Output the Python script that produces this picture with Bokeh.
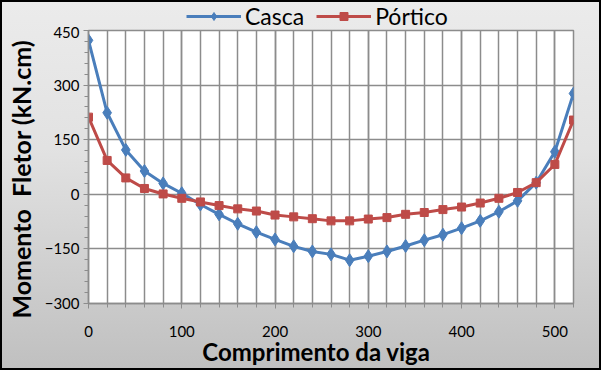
from bokeh.plotting import figure
from bokeh.layouts import column
from bokeh.models import Legend, LegendItem, FixedTicker, ColumnDataSource, Range1d
from bokeh.embed import file_html
from bokeh.resources import INLINE

x_pos = [0, 20, 40, 60, 80, 100, 120, 140, 160, 180, 200, 220, 240, 260, 280,
         300, 320, 340, 360, 380, 400, 420, 440, 460, 480, 500, 520]
casca = [423, 224, 122, 64, 30, 3, -28, -55, -81, -104, -124, -143, -157, -165, -181,
         -170, -157, -142, -126, -111, -93, -73, -48, -18, 32, 117, 277]
portico = [212, 93, 45, 16, 1, -11, -21, -31, -40, -46, -57, -62, -67, -73, -73,
           -68, -64, -55, -50, -42, -35, -24, -11, 5, 32, 82, 204]
x_ticks = [0, 100, 200, 300, 400, 500]
y_ticks = [-300, -150, 0, 150, 300, 450]
series_names = ["Casca", "Pórtico"]

FONT = "Lato"
BLUE = "#4A7EBB"
RED = "#BE4B48"
GRID = "#8c8c8c"
W = 597
LEG_H = 24
NB = "\u00a0"

# ---- legend strip (its own small canvas so the legend is not clipped) ----
lf = figure(width=W, height=LEG_H, output_backend="svg", toolbar_location=None,
            x_range=Range1d(0, 1), y_range=Range1d(0, 1),
            x_axis_type=None, y_axis_type=None,
            min_border_left=0, min_border_right=0, min_border_top=0, min_border_bottom=0)
lf.border_fill_alpha = 0
lf.background_fill_alpha = 0
lf.outline_line_color = None
lf.xgrid.visible = False
lf.ygrid.visible = False
# proxy renderers kept outside the visible range; they only style the legend keys
dl1 = lf.line([-5, -4], [-5, -4], line_color=BLUE, line_width=3)
dm1 = lf.scatter([-5], [-5], marker="diamond", size=13, fill_color=BLUE, line_color=BLUE)
dl2 = lf.line([-5, -4], [-5, -4], line_color=RED, line_width=3)
dm2 = lf.scatter([-5], [-5], marker="square", size=8, fill_color=RED, line_color=RED)
legend = Legend(items=[LegendItem(label=series_names[0], renderers=[dl1, dm1]),
                       LegendItem(label=series_names[1], renderers=[dl2, dm2])],
                orientation="horizontal", location=(98, -4))
legend.background_fill_alpha = 0
legend.border_line_alpha = 0
legend.label_text_font = FONT
legend.label_text_font_size = "23px"
legend.label_text_color = "black"
legend.glyph_width = 55
legend.spacing = 12
legend.padding = 0
legend.margin = 0
legend.label_standoff = 4
lf.add_layout(legend)

# ---- main chart ----
p = figure(width=W, height=366 - LEG_H, output_backend="svg", toolbar_location=None,
           x_range=(0, 520), y_range=(-300, 450),
           min_border_left=86, min_border_right=26, min_border_top=4, min_border_bottom=64)
p.border_fill_alpha = 0
p.background_fill_color = "white"
p.outline_line_color = GRID
p.outline_line_width = 1.5

src = ColumnDataSource(dict(x=x_pos, c=casca, p=portico))
p.line("x", "c", source=src, line_color=BLUE, line_width=3)
p.scatter("x", "c", source=src, marker="diamond", size=13, fill_color=BLUE, line_color=BLUE)
p.line("x", "p", source=src, line_color=RED, line_width=3)
p.scatter("x", "p", source=src, marker="square", size=8, fill_color=RED, line_color=RED)

p.xaxis.ticker = FixedTicker(ticks=x_ticks, minor_ticks=list(range(0, 521, 20)))
p.yaxis.ticker = FixedTicker(ticks=y_ticks, minor_ticks=list(range(-300, 451, 30)))

for ax in (p.xaxis[0], p.yaxis[0]):
    ax.axis_line_color = GRID
    ax.axis_line_width = 1.5
    ax.major_tick_line_color = GRID
    ax.minor_tick_line_color = GRID
    ax.major_tick_in = 0
    ax.major_tick_out = 5
    ax.minor_tick_in = 0
    ax.minor_tick_out = 4
    ax.major_label_text_font = FONT
    ax.major_label_text_font_size = "15px"
    ax.major_label_text_color = "black"
    ax.axis_label_text_font = FONT
    ax.axis_label_text_font_style = "bold"
    ax.axis_label_text_color = "black"

# trailing non-breaking spaces nudge the centred titles to the reference position
p.xaxis.axis_label = "Comprimento da viga" + NB * 5
p.yaxis.axis_label = "Momento " + NB + "Fletor (kN.cm)" + NB * 4
p.xaxis.axis_label_text_font_size = "24px"
p.yaxis.axis_label_text_font_size = "25px"
p.xaxis.major_label_standoff = 17
p.xaxis.axis_label_standoff = -3
p.yaxis.major_label_standoff = 4
p.yaxis.axis_label_standoff = 6

p.xgrid.grid_line_color = GRID
p.xgrid.grid_line_width = 1.5
p.xgrid.minor_grid_line_color = GRID
p.xgrid.minor_grid_line_width = 1.5
p.ygrid.grid_line_color = GRID
p.ygrid.grid_line_width = 1.5

layout = column(lf, p, spacing=0)
layout.styles = {"border": "2px solid black",
                 "background": "linear-gradient(#ebebeb, #e2e2e2 40%, #c0c0c0)"}

open("out.html", "w").write(file_html(layout, INLINE))
